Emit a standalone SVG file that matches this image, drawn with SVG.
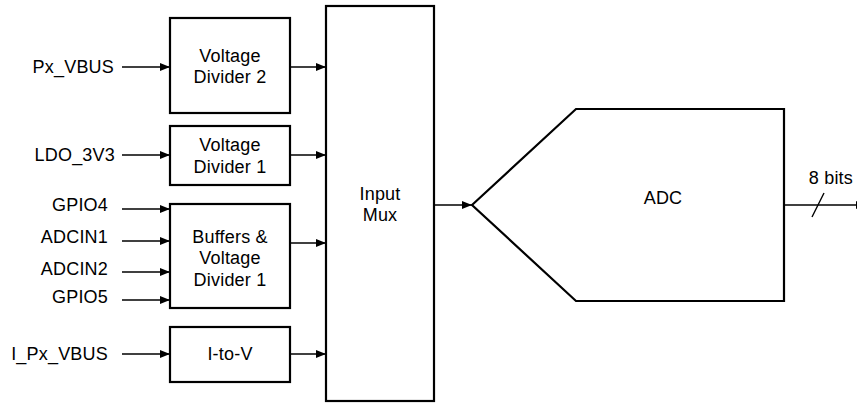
<svg xmlns="http://www.w3.org/2000/svg" width="857" height="404" viewBox="0 0 857 404">
<defs>
<marker id="arr" markerUnits="userSpaceOnUse" markerWidth="10" markerHeight="8" refX="10" refY="4" orient="auto" viewBox="0 0 10 8">
<path d="M0,0 L10,4 L0,8 z" fill="#000"/>
</marker>
</defs>
<style>
.box{fill:#fff;stroke:#000;stroke-width:2.2}
.t{font-family:"Liberation Sans",Arial,sans-serif;font-size:18px;letter-spacing:0.2px;fill:#000}
.m{text-anchor:middle}
.e{text-anchor:end}
.ln{stroke:#000;stroke-width:1.4;fill:none;marker-end:url(#arr)}
</style>
<rect width="857" height="404" fill="#fff"/>
<g id="connectors">
<line class="ln" x1="122" y1="67" x2="170" y2="67"/>
<line class="ln" x1="122" y1="155" x2="170" y2="155"/>
<line class="ln" x1="122" y1="209" x2="170" y2="209"/>
<line class="ln" x1="122" y1="241" x2="170" y2="241"/>
<line class="ln" x1="122" y1="272" x2="170" y2="272"/>
<line class="ln" x1="122" y1="300" x2="170" y2="300"/>
<line class="ln" x1="122" y1="354" x2="170" y2="354"/>
<line class="ln" x1="290" y1="67" x2="326" y2="67"/>
<line class="ln" x1="290" y1="155" x2="326" y2="155"/>
<line class="ln" x1="290" y1="243" x2="326" y2="243"/>
<line class="ln" x1="290" y1="354" x2="326" y2="354"/>
<line class="ln" x1="434" y1="205" x2="472" y2="205"/>
<line class="ln" x1="784" y1="205" x2="866" y2="205"/>
<line x1="812" y1="217" x2="824" y2="193" stroke="#000" stroke-width="1.4"/>
</g>
<g id="labels">
<text class="t e" x="114" y="73">Px_VBUS</text>
<text class="t e" x="115" y="161">LDO_3V3</text>
<text class="t e" x="108" y="211">GPIO4</text>
<text class="t e" x="108" y="243">ADCIN1</text>
<text class="t e" x="108" y="275">ADCIN2</text>
<text class="t e" x="108" y="303">GPIO5</text>
<text class="t e" x="108" y="360">I_Px_VBUS</text>
<text class="t e" x="853" y="184">8 bits</text>
</g>
<g id="vd2">
<rect class="box" x="170" y="18" width="120" height="95"/>
<text class="t m" x="230" y="62">Voltage</text>
<text class="t m" x="230" y="83">Divider 2</text>
</g>
<g id="vd1">
<rect class="box" x="170" y="126" width="120" height="59"/>
<text class="t m" x="230" y="151">Voltage</text>
<text class="t m" x="230" y="173">Divider 1</text>
</g>
<g id="buffers">
<rect class="box" x="170" y="204" width="120" height="104"/>
<text class="t m" x="230" y="243">Buffers &amp;</text>
<text class="t m" x="230" y="264">Voltage</text>
<text class="t m" x="230" y="286">Divider 1</text>
</g>
<g id="itov">
<rect class="box" x="170" y="327" width="120" height="55"/>
<text class="t m" x="230" y="360">I-to-V</text>
</g>
<g id="mux">
<rect class="box" x="326" y="6" width="108" height="395"/>
<text class="t m" x="380" y="200">Input</text>
<text class="t m" x="380" y="221">Mux</text>
</g>
<g id="adc">
<path class="box" d="M472,205 L576,109 L784,109 L784,301 L576,301 Z"/>
<text class="t m" x="663" y="204">ADC</text>
</g>
</svg>
